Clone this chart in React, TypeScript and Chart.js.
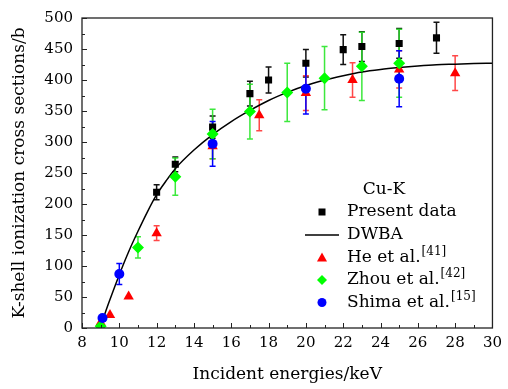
import React, { useEffect, useRef } from "react";
import { Chart, registerables } from "chart.js";
Chart.register(...registerables);

// Present data (black squares)
const presentX = [12, 13, 15, 17, 18, 20, 22, 23, 25, 27];
const presentY = [219, 264, 324, 378, 400, 427, 449, 454, 459, 468];
const presentErr = [12, 12, 18, 20, 21, 22, 24, 24, 24, 25];

// He et al. [41] (red triangles)
const heX = [9, 9.5, 10.5, 12, 15, 17.5, 20, 22.5, 25, 28];
const heY = [9, 21, 51, 153, 293, 343, 379, 400, 417, 411];
const heErr = [0, 0, 0, 12, 20, 25, 28, 28, 30, 28];

// Zhou et al. [42] (green diamonds)
const zhouX = [9, 11, 13, 15, 17, 19, 21, 23, 25];
const zhouY = [3, 130, 244, 313, 349, 380, 403, 422, 427];
const zhouErr = [0, 17, 30, 40, 44, 47, 51, 55, 55];

// Shima et al. [15] (blue circles)
const shimaX = [9.1, 10, 15, 20, 25];
const shimaY = [16, 87, 297, 386, 402];
const shimaErr = [0, 17, 36, 41, 45];

// DWBA curve
const dwbaX = [8.98, 9.25, 9.5, 10, 10.5, 11, 11.5, 12, 12.5, 13, 14, 15, 16, 17, 18, 19, 20, 21, 22, 23, 24, 25, 26, 27, 28, 29, 30];
const dwbaY = [0, 25, 46, 86, 123, 156, 187, 215, 237, 257, 287, 312, 333, 351, 367, 380, 391, 400, 407, 413, 417, 420, 422.5, 424.5, 425.5, 426.5, 427];

const xTicksMajor = [8, 10, 12, 14, 16, 18, 20, 22, 24, 26, 28, 30];
const yTicksMajor = [0, 50, 100, 150, 200, 250, 300, 350, 400, 450, 500];

const FONT = "'DejaVu Serif', serif";

const RED = "#ff0000";
const GREEN = "#00ff00";
const BLUE = "#0000ff";

export default function App() {
  const ref = useRef<HTMLCanvasElement>(null);
  useEffect(() => {
    document.body.style.margin = "0";
    const canvas = ref.current!;
    const pts = (xs: number[], ys: number[]) => xs.map((x, i) => ({ x, y: ys[i] }));

    const errorBarPlugin = {
      id: "errbars",
      beforeDatasetsDraw(chart: any) {
        const { ctx, scales } = chart;
        const xs = scales.x, ys = scales.y;
        chart.data.datasets.forEach((ds: any) => {
          const err = ds.errors as number[] | undefined;
          if (!err) return;
          ctx.save();
          ctx.strokeStyle = ds.errColor;
          ctx.lineWidth = 1.5;
          ds.data.forEach((p: any, j: number) => {
            const e = err[j];
            if (!e) return;
            const px = xs.getPixelForValue(p.x);
            const top = ys.getPixelForValue(p.y + e);
            const bot = ys.getPixelForValue(p.y - e);
            ctx.beginPath();
            ctx.moveTo(px, top);
            ctx.lineTo(px, bot);
            ctx.moveTo(px - 3, top);
            ctx.lineTo(px + 3, top);
            ctx.moveTo(px - 3, bot);
            ctx.lineTo(px + 3, bot);
            ctx.stroke();
          });
          ctx.restore();
        });
      },
    };

    const framePlugin = {
      id: "frame",
      afterDraw(chart: any) {
        const { ctx, chartArea: a, scales } = chart;
        const xs = scales.x, ys = scales.y;
        ctx.save();
        ctx.strokeStyle = "#222";
        ctx.lineWidth = 1.3;
        ctx.strokeRect(a.left, a.top, a.right - a.left, a.bottom - a.top);
        ctx.lineWidth = 1;
        ctx.beginPath();
        for (let i = 0; i < xTicksMajor.length; i++) {
          const v = xTicksMajor[i];
          const px = Math.round(xs.getPixelForValue(v)) + 0.5;
          ctx.moveTo(px, a.bottom);
          ctx.lineTo(px, a.bottom - 5);
          if (i < xTicksMajor.length - 1) {
            const m = Math.round(xs.getPixelForValue((v + xTicksMajor[i + 1]) / 2)) + 0.5;
            ctx.moveTo(m, a.bottom);
            ctx.lineTo(m, a.bottom - 3);
          }
        }
        for (let i = 0; i < yTicksMajor.length; i++) {
          const v = yTicksMajor[i];
          const py = Math.round(ys.getPixelForValue(v)) + 0.5;
          ctx.moveTo(a.left, py);
          ctx.lineTo(a.left + 5, py);
          if (i < yTicksMajor.length - 1) {
            const m = Math.round(ys.getPixelForValue((v + yTicksMajor[i + 1]) / 2)) + 0.5;
            ctx.moveTo(a.left, m);
            ctx.lineTo(a.left + 3, m);
          }
        }
        ctx.stroke();

        // legend
        const mx = 322, tx = 347;
        ctx.fillStyle = "#000";
        ctx.textBaseline = "middle";
        ctx.font = `17px ${FONT}`;
        ctx.textAlign = "center";
        ctx.fillText("Cu-K", 384, 190);
        ctx.textAlign = "left";
        const rows = [212, 235, 257.5, 280, 302.5];
        ctx.fillStyle = "#000";
        ctx.fillRect(mx - 3.5, rows[0] - 3.5, 7, 7);
        ctx.strokeStyle = "#000";
        ctx.lineWidth = 1.5;
        ctx.beginPath();
        ctx.moveTo(305, rows[1]);
        ctx.lineTo(339, rows[1]);
        ctx.stroke();
        ctx.fillStyle = RED;
        ctx.beginPath();
        ctx.moveTo(mx, rows[2] - 5);
        ctx.lineTo(mx + 5, rows[2] + 4);
        ctx.lineTo(mx - 5, rows[2] + 4);
        ctx.closePath();
        ctx.fill();
        ctx.fillStyle = GREEN;
        ctx.beginPath();
        ctx.moveTo(mx, rows[3] - 5);
        ctx.lineTo(mx + 5, rows[3]);
        ctx.lineTo(mx, rows[3] + 5);
        ctx.lineTo(mx - 5, rows[3]);
        ctx.closePath();
        ctx.fill();
        ctx.fillStyle = BLUE;
        ctx.beginPath();
        ctx.arc(mx, rows[4], 4.5, 0, Math.PI * 2);
        ctx.fill();

        ctx.fillStyle = "#000";
        const labels: [string, string][] = [
          ["Present data", ""],
          ["DWBA", ""],
          ["He et al.", "[41]"],
          ["Zhou et al.", "[42]"],
          ["Shima et al.", "[15]"],
        ];
        labels.forEach(([t, sup], i) => {
          ctx.font = `17px ${FONT}`;
          ctx.fillText(t, tx, rows[i]);
          if (sup) {
            const w = ctx.measureText(t).width;
            ctx.font = `12px ${FONT}`;
            ctx.fillText(sup, tx + w + 1, rows[i] - 6);
          }
        });
        ctx.restore();
      },
    };

    const chart = new Chart(canvas, {
      type: "scatter",
      data: {
        datasets: [
          {
            data: pts(dwbaX, dwbaY),
            showLine: true,
            pointRadius: 0,
            borderColor: "#000",
            borderWidth: 1.5,
            cubicInterpolationMode: "monotone",
            order: 6,
          } as any,
          {
            data: pts(presentX, presentY),
            pointStyle: "rect",
            pointRadius: 5,
            backgroundColor: "#000",
            borderColor: "#000",
            borderWidth: 0,
            errors: presentErr,
            errColor: "#111",
            order: 5,
          },
          {
            data: pts(heX, heY),
            pointStyle: "triangle",
            pointRadius: 6,
            backgroundColor: RED,
            borderColor: RED,
            borderWidth: 0,
            errors: heErr,
            errColor: "rgba(255,40,40,0.85)",
            order: 4,
          },
          {
            data: pts(zhouX, zhouY),
            pointStyle: "rectRot",
            pointRadius: 6,
            backgroundColor: GREEN,
            borderColor: GREEN,
            borderWidth: 0,
            errors: zhouErr,
            errColor: "rgba(40,230,40,0.9)",
            order: 3,
          },
          {
            data: pts(shimaX, shimaY),
            pointStyle: "circle",
            pointRadius: 5,
            backgroundColor: BLUE,
            borderColor: BLUE,
            borderWidth: 0,
            errors: shimaErr,
            errColor: BLUE,
            order: 2,
          },
        ] as any,
      },
      options: {
        responsive: false,
        animation: false,
        events: [],
        layout: { padding: { top: 11, right: 10, left: 0, bottom: 0 } },
        plugins: { legend: { display: false }, tooltip: { enabled: false } },
        scales: {
          x: {
            type: "linear",
            min: 8,
            max: 30,
            afterFit: (s: any) => { s.height = 61; },
            afterBuildTicks: (s: any) => { s.ticks = xTicksMajor.map((v) => ({ value: v })); },
            grid: { display: false, drawTicks: false },
            border: { display: false },
            ticks: { font: { family: FONT, size: 15 }, color: "#000", padding: 6, maxRotation: 0, autoSkip: false },
            title: { display: true, text: "Incident energies/keV", font: { family: FONT, size: 17 }, color: "#000", padding: { top: 0, bottom: 4 } },
          },
          y: {
            type: "linear",
            min: 0,
            max: 500,
            afterFit: (s: any) => { s.width = 82; },
            afterBuildTicks: (s: any) => { s.ticks = yTicksMajor.map((v) => ({ value: v })); },
            grid: { display: false, drawTicks: false },
            border: { display: false },
            ticks: { font: { family: FONT, size: 15 }, color: "#000", padding: 9, autoSkip: false },
            title: { display: true, text: "K-shell ionization cross sections/b", font: { family: FONT, size: 17 }, color: "#000", padding: { top: 9, bottom: 0 } },
          },
        },
      } as any,
      plugins: [errorBarPlugin, framePlugin],
    });
    return () => chart.destroy();
  }, []);
  return (
    <div style={{ width: 508, height: 389, background: "#fff" }}>
      <canvas ref={ref} width={508} height={389} style={{ display: "block", width: 508, height: 389 }} />
    </div>
  );
}
